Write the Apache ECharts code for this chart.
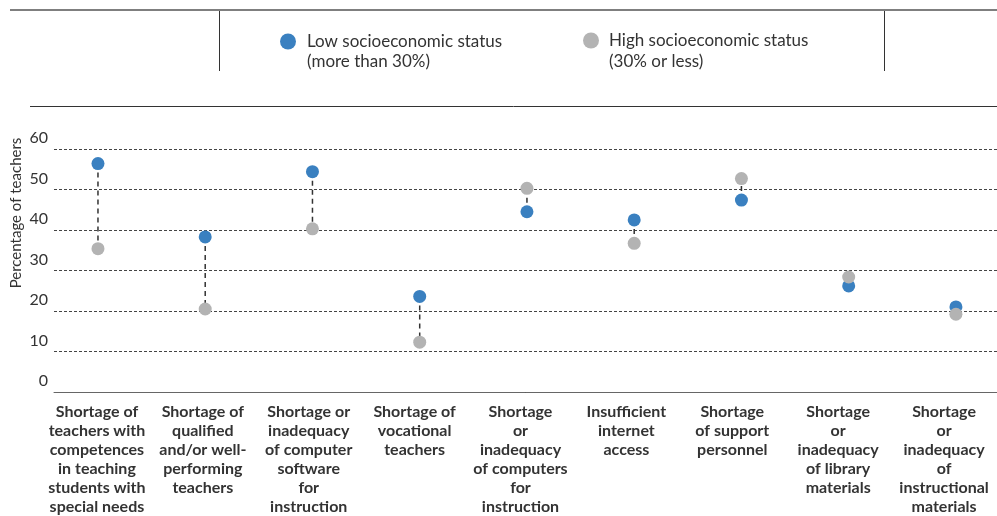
<!DOCTYPE html>
<html>
<head>
<meta charset="utf-8">
<script src="https://cdn.jsdelivr.net/npm/echarts@6/dist/echarts.min.js"></script>
<style>
  html, body { margin: 0; padding: 0; background: #fff; }
  #chart { width: 997px; height: 516px; }
</style>
</head>
<body>
<div id="chart"></div>
<script>
// categories, wrapped as in the original
const categories = [
  'Shortage of\nteachers with\ncompetences\nin teaching\nstudents with\nspecial needs',
  'Shortage of\nqualified\nand/or well-\nperforming\nteachers',
  'Shortage or\ninadequacy\nof computer\nsoftware\nfor\ninstruction',
  'Shortage of\nvocational\nteachers',
  'Shortage\nor\ninadequacy\nof computers\nfor\ninstruction',
  'Insufficient\ninternet\naccess',
  'Shortage\nof support\npersonnel',
  'Shortage\nor\ninadequacy\nof library\nmaterials',
  'Shortage\nor\ninadequacy\nof\ninstructional\nmaterials'
]
const lowStatus = [56.4, 38.3, 54.4, 23.6, 44.5, 42.5, 47.4, 26.2, 21.0]
const highStatus = [35.4, 20.5, 40.3, 12.3, 50.3, 36.7, 52.7, 28.4, 19.2]
const yTicks = [0, 10, 20, 30, 40, 50, 60]

const lowName = 'Low socioeconomic status'
const highName = 'High socioeconomic status'
const blue = '#3a80c0'
const grey = '#b3b3b3'
const font = 'Lato'

const chart = echarts.init(document.getElementById('chart'))

const option = {
  animation: false,
  textStyle: { fontFamily: font, color: '#333' },
  legend: [
    {
      data: [lowName], left: 280, top: 33, padding: 0, icon: 'circle',
      itemWidth: 28, itemHeight: 16,
      textStyle: { fontFamily: font, fontSize: 17, color: '#333' }
    },
    {
      data: [highName], left: 583, top: 32, padding: 0, icon: 'circle',
      itemWidth: 26, itemHeight: 16,
      textStyle: { fontFamily: font, fontSize: 17, color: '#333' }
    }
  ],
  graphic: [
    { type: 'line', shape: { x1: 10, y1: 10, x2: 997, y2: 10 }, style: { stroke: '#555', lineWidth: 1.5 } },
    { type: 'line', shape: { x1: 219.5, y1: 11, x2: 219.5, y2: 71 }, style: { stroke: '#333', lineWidth: 1 } },
    { type: 'line', shape: { x1: 884.5, y1: 11, x2: 884.5, y2: 71 }, style: { stroke: '#333', lineWidth: 1 } },
    { type: 'line', shape: { x1: 30, y1: 106.5, x2: 997, y2: 106.5 }, style: { stroke: '#333', lineWidth: 1 } },
    { type: 'text', left: 307, top: 53, style: { text: '(more than 30%)', font: '17px ' + font, fill: '#333' } },
    { type: 'text', left: 609, top: 53, style: { text: '(30% or less)', font: '17px ' + font, fill: '#333' } },
    {
      type: 'text', x: 16, y: 213, rotation: Math.PI / 2,
      style: { text: 'Percentage of teachers', font: '15px ' + font, fill: '#333', textAlign: 'center', textVerticalAlign: 'middle' }
    }
  ],
  grid: [
    { left: 54, right: 0, top: 149, bottom: 124 },
    { left: 44, right: -13, top: 149, bottom: 124 }
  ],
  xAxis: [
    {
      type: 'value', gridIndex: 0, min: -0.41, max: 8.383,
      axisLine: { show: true, lineStyle: { color: '#666', width: 1 } },
      axisTick: { show: false }, axisLabel: { show: false }, splitLine: { show: false }
    },
    {
      type: 'category', gridIndex: 1, data: categories,
      axisLine: { show: false }, axisTick: { show: false },
      axisLabel: {
        interval: 0, margin: 14, fontFamily: font, fontSize: 16, fontWeight: 'bold',
        color: '#333', lineHeight: 19, align: 'center'
      }
    }
  ],
  yAxis: [
    {
      type: 'value', gridIndex: 0, min: yTicks[0], max: yTicks[yTicks.length - 1], interval: 10,
      axisLine: { show: false }, axisTick: { show: false },
      axisLabel: {
        fontFamily: font, fontSize: 16, color: '#333', margin: 6,
        verticalAlign: 'bottom', padding: [0, 0, 3, 0]
      },
      splitLine: { show: true, lineStyle: { color: '#444', type: [3, 2], width: 1 } }
    },
    { type: 'value', gridIndex: 1, min: 0, max: 60, show: false }
  ],
  series: [
    {
      type: 'custom', xAxisIndex: 0, yAxisIndex: 0, z: 1, silent: true,
      data: lowStatus.map((v, i) => [i, v, highStatus[i]]),
      renderItem: (params, api) => {
        const a = api.coord([api.value(0), api.value(1)])
        const b = api.coord([api.value(0), api.value(2)])
        return {
          type: 'line',
          shape: { x1: a[0], y1: a[1], x2: b[0], y2: b[1] },
          style: { stroke: '#333', lineWidth: 1.5, lineDash: [5, 4] }
        }
      }
    },
    {
      name: lowName, type: 'scatter', xAxisIndex: 0, yAxisIndex: 0, z: 3,
      symbolSize: 13, itemStyle: { color: blue, opacity: 1 },
      data: lowStatus.map((v, i) => [i, v])
    },
    {
      name: highName, type: 'scatter', xAxisIndex: 0, yAxisIndex: 0, z: 3,
      symbolSize: 13, itemStyle: { color: grey, opacity: 1 },
      data: highStatus.map((v, i) => [i, v])
    }
  ]
}

chart.setOption(option)
</script>
</body>
</html>
